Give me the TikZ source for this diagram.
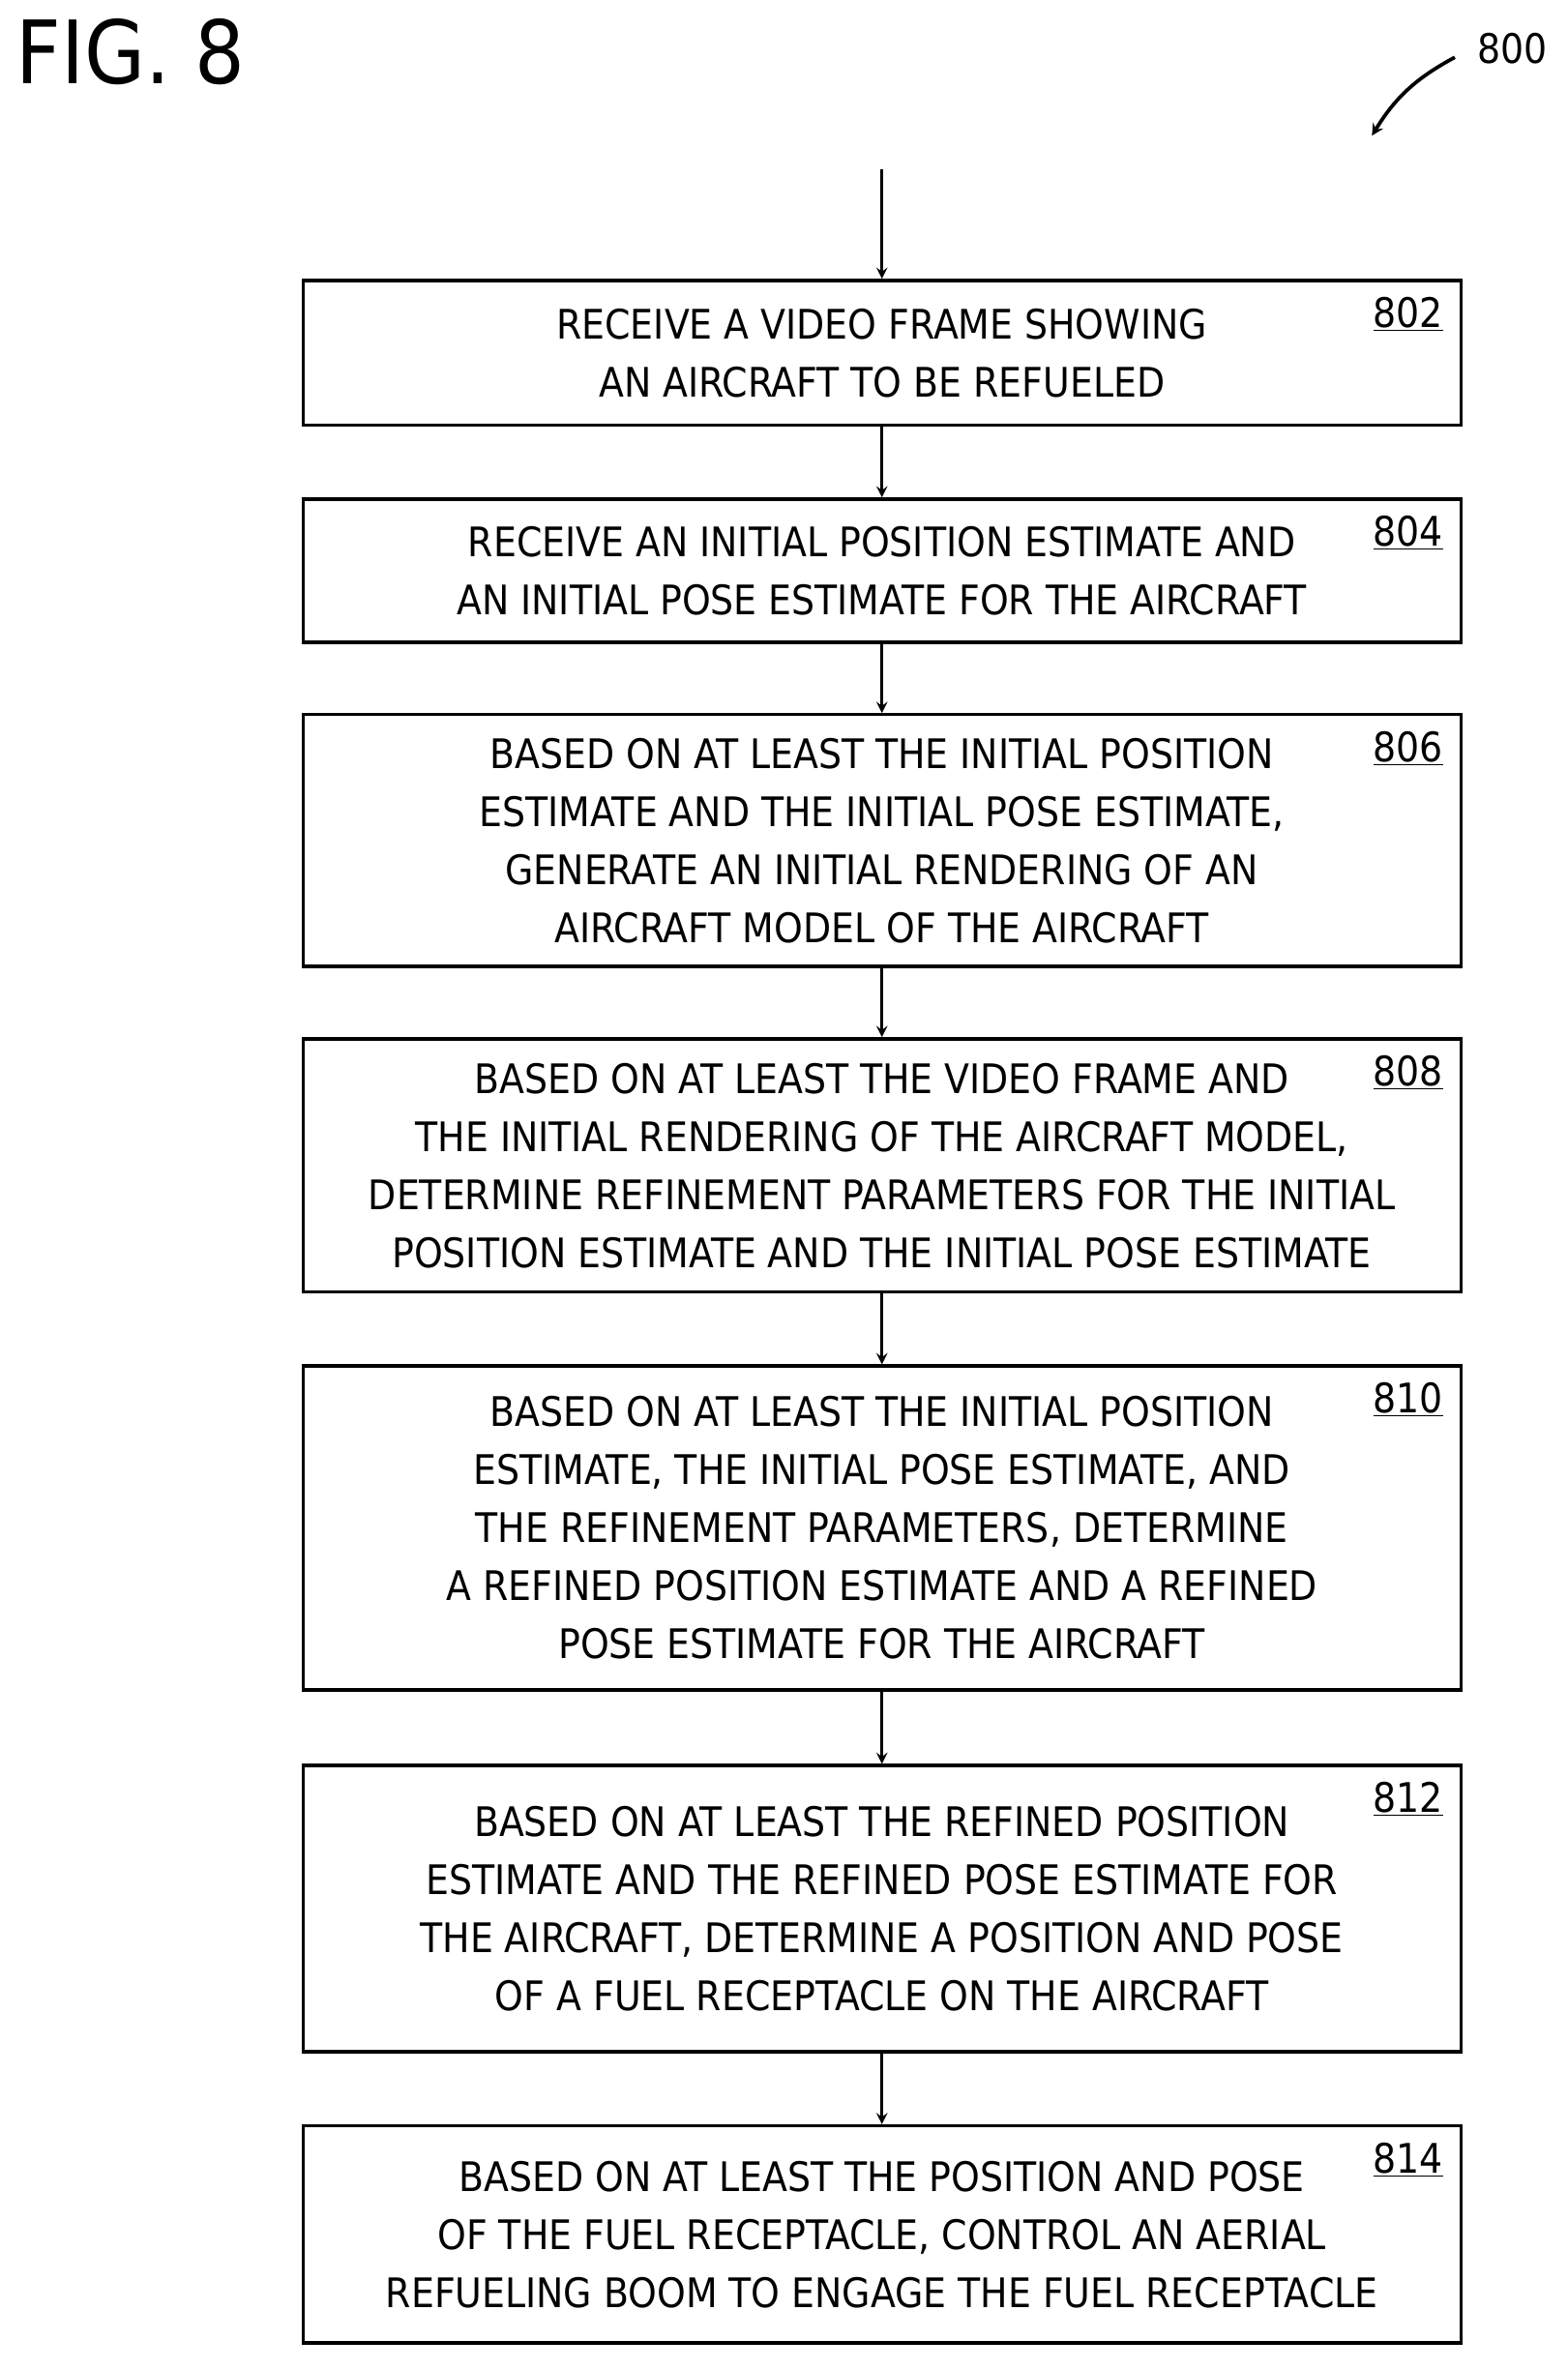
\documentclass[tikz,border=0pt]{standalone}
\usepackage{fontspec}
\setmainfont{DejaVu Sans Condensed}
\begin{document}
\begin{tikzpicture}
		[x=1pt,y=-1pt,>=stealth,line width=2.2pt,
		 stepbox/.style={draw,minimum width=768pt,align=center,inner sep=0pt,
		   font=\fontsize{27}{38.5}\selectfont},
		 ref/.style={anchor=north,font=\fontsize{27}{30}\selectfont}]

        \useasboundingbox (0,0) rectangle (1040,1572);

        \node[anchor=north west,font=\fontsize{58}{60}\selectfont] (fig) at (6,8) {FIG. 8};
        \node[font=\fontsize{27}{30}\selectfont] (num) at (1003,32) {800};
        \draw[->,line width=2.4pt] (965,38) to[bend right=15] (910,90);

        \node[stepbox,minimum height=96pt] (s802) at (585,234)
            {RECEIVE A VIDEO FRAME SHOWING\\AN AIRCRAFT TO BE REFUELED};
        \node[stepbox,minimum height=95pt] (s804) at (585,378.5)
            {RECEIVE AN INITIAL POSITION ESTIMATE AND\\AN INITIAL POSE ESTIMATE FOR THE AIRCRAFT};
        \node[stepbox,minimum height=167pt] (s806) at (585,557.5)
            {BASED ON AT LEAST THE INITIAL POSITION\\ESTIMATE AND THE INITIAL POSE ESTIMATE,\\GENERATE AN INITIAL RENDERING OF AN\\AIRCRAFT MODEL OF THE AIRCRAFT};
        \node[stepbox,minimum height=168pt] (s808) at (585,773)
            {BASED ON AT LEAST THE VIDEO FRAME AND\\THE INITIAL RENDERING OF THE AIRCRAFT MODEL,\\DETERMINE REFINEMENT PARAMETERS FOR THE INITIAL\\POSITION ESTIMATE AND THE INITIAL POSE ESTIMATE};
        \node[stepbox,minimum height=215pt] (s810) at (585,1013.5)
            {BASED ON AT LEAST THE INITIAL POSITION\\ESTIMATE, THE INITIAL POSE ESTIMATE, AND\\THE REFINEMENT PARAMETERS, DETERMINE\\A REFINED POSITION ESTIMATE AND A REFINED\\POSE ESTIMATE FOR THE AIRCRAFT};
        \node[stepbox,minimum height=190pt] (s812) at (585,1266)
            {BASED ON AT LEAST THE REFINED POSITION\\ESTIMATE AND THE REFINED POSE ESTIMATE FOR\\THE AIRCRAFT, DETERMINE A POSITION AND POSE\\OF A FUEL RECEPTACLE ON THE AIRCRAFT};
        \node[stepbox,minimum height=144pt] (s814) at (585,1482)
            {BASED ON AT LEAST THE POSITION AND POSE\\OF THE FUEL RECEPTACLE, CONTROL AN AERIAL\\REFUELING BOOM TO ENGAGE THE FUEL RECEPTACLE};

        % step numbers
        \foreach \s in {802,804,806,808,810,812,814}
            \node[ref] (r\s) at ([xshift=-36pt,yshift=-8pt]s\s.north east) {\underline{\s}};

        \coordinate (top) at (585,112);
        \draw[->] (top) -- (s802);
        \draw[->] (s802) -- (s804);
        \draw[->] (s804) -- (s806);
        \draw[->] (s806) -- (s808);
        \draw[->] (s808) -- (s810);
        \draw[->] (s810) -- (s812);
        \draw[->] (s812) -- (s814);

    \end{tikzpicture}
\end{document}
